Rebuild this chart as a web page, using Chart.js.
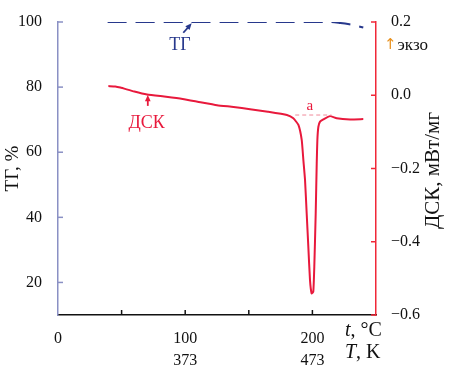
<!DOCTYPE html>
<html>
<head>
<meta charset="utf-8">
<script src="https://cdn.jsdelivr.net/npm/chart.js@4.4.0/dist/chart.umd.min.js"></script>
<style>
  body { margin: 0; background: #fff; }
  #wrap { width: 456px; height: 371px; }
</style>
</head>
<body>
<div id="wrap"><canvas id="tgChart"></canvas></div>
<script>
// --- dados ---
const tgTemp   = [39, 100, 214, 222, 229, 235, 240];
const tgValues = [100, 100, 100, 99.7, 99.3, 98.8, 98.3];

const dscTemp   = [39.6, 45, 49, 60, 70, 85, 98, 112, 125, 138, 151, 165, 180, 185, 189, 191.6, 192.9, 194.2, 195.5, 196.8, 198.1, 199.4, 200.7, 201.5, 202.6, 203.4, 203.9, 204.7, 206, 208.6, 213.8, 219.1, 229.6, 240];
const dscValues = [0.025, 0.024, 0.021, 0.010, 0.002, -0.004, -0.010, -0.019, -0.027, -0.032, -0.038, -0.045, -0.054, -0.063, -0.081, -0.122, -0.177, -0.231, -0.322, -0.414, -0.504, -0.541, -0.536, -0.468, -0.322, -0.186, -0.122, -0.086, -0.072, -0.066, -0.057, -0.063, -0.066, -0.065];

const xTickValues  = [0, 50, 100, 150, 200, 250];
const celsiusShown = [0, 100, 200];
const kelvinAt     = [100, 200];
const kelvinLabels = ['373', '473'];
const tgTicks  = [20, 40, 60, 80, 100];
const dscTicks = [-0.6, -0.4, -0.2, 0.0, 0.2];

const FONT = '"Liberation Serif", "Times New Roman", serif';
const NAVY = '#27388c';
const RED = '#e8193c';
const AXIS_RED = '#f02838';
const AXIS_BLUE = '#8a90c4';

const toPoints = (xs, ys) => xs.map((x, i) => ({ x: x, y: ys[i] }));

function drawArrow(ctx, x1, y1, x2, y2, color) {
  const ang = Math.atan2(y2 - y1, x2 - x1);
  const head = 7;
  ctx.strokeStyle = color;
  ctx.fillStyle = color;
  ctx.lineWidth = 1.8;
  ctx.beginPath();
  ctx.moveTo(x1, y1);
  ctx.lineTo(x2 - Math.cos(ang) * 4, y2 - Math.sin(ang) * 4);
  ctx.stroke();
  ctx.beginPath();
  ctx.moveTo(x2, y2);
  ctx.lineTo(x2 - head * Math.cos(ang - 0.42), y2 - head * Math.sin(ang - 0.42));
  ctx.lineTo(x2 - head * Math.cos(ang + 0.42), y2 - head * Math.sin(ang + 0.42));
  ctx.closePath();
  ctx.fill();
}

// ticks para dentro, títulos e anotações
const extras = {
  id: 'extras',
  afterDraw(chart) {
    const { ctx } = chart;
    const x = chart.scales.x, yTg = chart.scales.yTg, yDsc = chart.scales.yDsc;
    const tl = 5;
    ctx.save();

    ctx.lineWidth = 1.5;
    ctx.strokeStyle = '#111';
    xTickValues.forEach(v => {
      if (v === 0 || v === 250) return;
      const px = x.getPixelForValue(v);
      ctx.beginPath(); ctx.moveTo(px, x.top); ctx.lineTo(px, x.top - tl); ctx.stroke();
    });
    ctx.strokeStyle = AXIS_BLUE;
    tgTicks.forEach(v => {
      const py = yTg.getPixelForValue(v);
      ctx.beginPath(); ctx.moveTo(yTg.right, py); ctx.lineTo(yTg.right + tl, py); ctx.stroke();
    });
    ctx.strokeStyle = AXIS_RED;
    dscTicks.forEach(v => {
      const py = yDsc.getPixelForValue(v);
      ctx.beginPath(); ctx.moveTo(yDsc.left, py); ctx.lineTo(yDsc.left - tl, py); ctx.stroke();
    });

    // t, °C  /  T, K
    const row1 = x.top + 4.5 + 11.2;
    const row2 = row1 + 22.4;
    ctx.fillStyle = '#111';
    ctx.textBaseline = 'middle';
    ctx.textAlign = 'left';
    const lx = 345;
    ctx.font = 'italic 20px ' + FONT;
    ctx.fillText('t', lx, row1);
    let w = ctx.measureText('t').width;
    ctx.font = '20px ' + FONT;
    ctx.fillText(', °C', lx + w, row1);
    ctx.font = 'italic 20px ' + FONT;
    ctx.fillText('T', lx, row2);
    w = ctx.measureText('T').width;
    ctx.font = '20px ' + FONT;
    ctx.fillText(', K', lx + w, row2);

    // título do eixo direito (de baixo para cima)
    ctx.save();
    ctx.translate(433, (yDsc.top + yDsc.bottom) / 2 + 2);
    ctx.rotate(-Math.PI / 2);
    ctx.textAlign = 'center';
    ctx.font = '21px ' + FONT;
    ctx.fillText('ДСК, мВт/мг', 0, 0);
    ctx.restore();

    // ↑экзо
    ctx.font = '15px "DejaVu Sans", sans-serif';
    ctx.fillStyle = '#e8901c';
    ctx.fillText('↑', 384, 45);
    const aw = ctx.measureText('↑').width;
    ctx.font = '17px ' + FONT;
    ctx.fillStyle = '#111';
    ctx.fillText('экзо', 384 + aw + 1, 46);

    // ТГ
    ctx.textAlign = 'center';
    ctx.font = '18px ' + FONT;
    ctx.fillStyle = NAVY;
    ctx.fillText('ТГ', x.getPixelForValue(95.9), yTg.getPixelForValue(92.9));
    drawArrow(ctx, x.getPixelForValue(98.5), yTg.getPixelForValue(96.7),
      x.getPixelForValue(105.1), yTg.getPixelForValue(99.6), NAVY);

    // ДСК
    ctx.fillStyle = RED;
    ctx.fillText('ДСК', x.getPixelForValue(69.6), yDsc.getPixelForValue(-0.076));
    drawArrow(ctx, x.getPixelForValue(70.6), yDsc.getPixelForValue(-0.029),
      x.getPixelForValue(70.6), yDsc.getPixelForValue(0.001), RED);

    // a
    ctx.font = '15px ' + FONT;
    ctx.fillText('a', x.getPixelForValue(198), yDsc.getPixelForValue(-0.029));
    ctx.strokeStyle = '#f08a9a';
    ctx.lineWidth = 1;
    ctx.setLineDash([4, 3]);
    const ay = yDsc.getPixelForValue(-0.054);
    ctx.beginPath();
    ctx.moveTo(x.getPixelForValue(186.5), ay);
    ctx.lineTo(x.getPixelForValue(215), ay);
    ctx.stroke();

    ctx.restore();
  }
};

const ctx = document.getElementById('tgChart').getContext('2d');
new Chart(ctx, {
  type: 'line',
  data: {
    datasets: [{
      label: 'ТГ',
      data: toPoints(tgTemp, tgValues),
      yAxisID: 'yTg',
      borderColor: NAVY,
      borderWidth: 2,
      borderDash: [19, 9],
      pointRadius: 0,
      tension: 0.3
    }, {
      label: 'ДСК',
      data: toPoints(dscTemp, dscValues),
      yAxisID: 'yDsc',
      borderColor: RED,
      borderWidth: 2,
      pointRadius: 0,
      tension: 0.15
    }]
  },
  options: {
    responsive: true,
    maintainAspectRatio: false,
    animation: false,
    layout: { padding: { top: 22, left: 0, right: 0, bottom: 0 } },
    plugins: {
      legend: { display: false },
      tooltip: { enabled: false }
    },
    scales: {
      x: {
        type: 'linear',
        position: 'bottom',
        min: 0,
        max: 250,
        afterBuildTicks: s => { s.ticks = xTickValues.map(v => ({ value: v })); },
        afterFit: s => { s.height = 56; },
        grid: { display: false },
        border: { color: '#111', width: 1.5 },
        ticks: {
          padding: 4.5,
          maxRotation: 0,
          autoSkip: false,
          color: '#111',
          font: { family: FONT, size: 16, lineHeight: 1.4 },
          callback: v => {
            if (!celsiusShown.includes(v)) return '';
            const k = kelvinAt.indexOf(v);
            return k >= 0 ? [String(v), kelvinLabels[k]] : String(v);
          }
        }
      },
      yTg: {
        type: 'linear',
        position: 'left',
        min: 10,
        max: 100,
        afterBuildTicks: s => { s.ticks = tgTicks.map(v => ({ value: v })); },
        afterFit: s => { s.width = 58; },
        grid: { display: false },
        border: { color: AXIS_BLUE, width: 1.5 },
        ticks: {
          padding: 8,
          color: '#111',
          font: { family: FONT, size: 16 }
        },
        title: {
          display: true,
          text: 'ТГ, %',
          color: '#111',
          padding: { top: 2, bottom: 0 },
          font: { family: FONT, size: 19 }
        }
      },
      yDsc: {
        type: 'linear',
        position: 'right',
        min: -0.6,
        max: 0.2,
        afterBuildTicks: s => { s.ticks = dscTicks.map(v => ({ value: v })); },
        afterFit: s => { s.width = 80; },
        grid: { display: false },
        border: { color: AXIS_RED, width: 1.5 },
        ticks: {
          padding: 7,
          color: '#111',
          font: { family: FONT, size: 16 },
          callback: v => v.toFixed(1).replace('-', '−').replace('−0.0', '0.0')
        }
      }
    }
  },
  plugins: [extras]
});
</script>
</body>
</html>
